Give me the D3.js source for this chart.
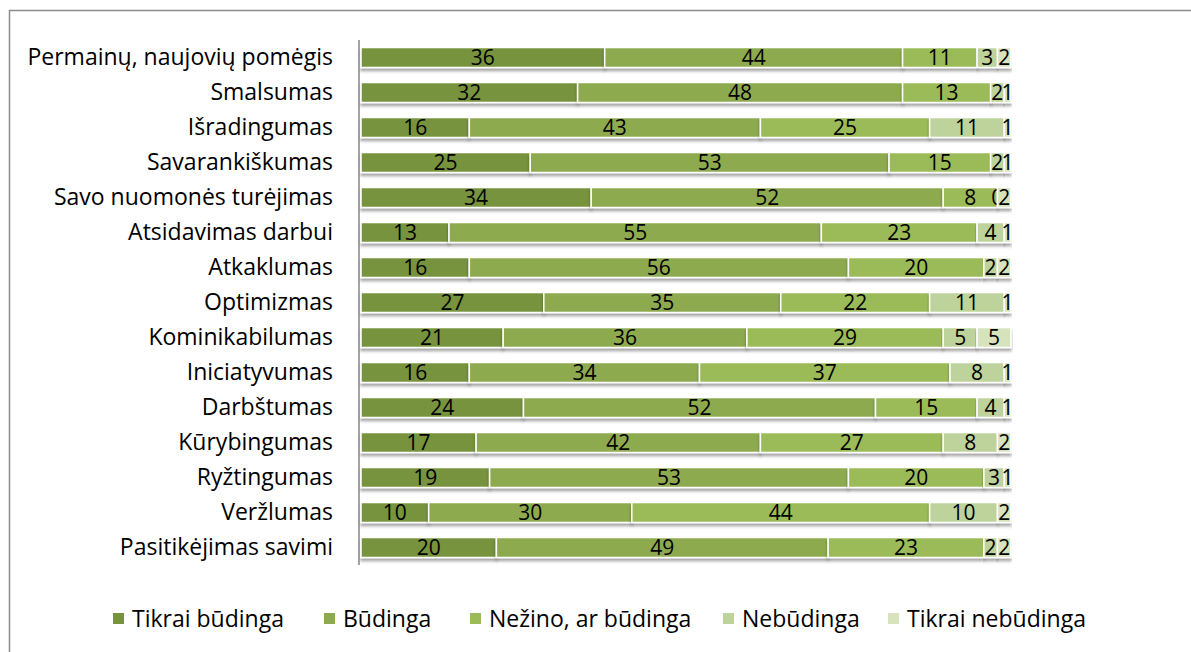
<!DOCTYPE html>
<html>
<head>
<meta charset="utf-8">
<script src="https://cdn.jsdelivr.net/npm/d3@7"></script>
<style>
  body { margin: 0; background: #fff; }
  svg { display: block; font-family: "Open Sans", "Noto Sans", sans-serif; }
</style>
</head>
<body>
<div id="chart"></div>
<script>
//categories, top to bottom
var categories = [
	"Permainų, naujovių pomėgis", "Smalsumas", "Išradingumas", "Savarankiškumas",
	"Savo nuomonės turėjimas", "Atsidavimas darbui", "Atkaklumas", "Optimizmas",
	"Kominikabilumas", "Iniciatyvumas", "Darbštumas", "Kūrybingumas",
	"Ryžtingumas", "Veržlumas", "Pasitikėjimas savimi"
];
var seriesNames = ["Tikrai būdinga", "Būdinga", "Nežino, ar būdinga", "Nebūdinga", "Tikrai nebūdinga"];
var seriesColors = ["#77933c", "#8eaa4f", "#9bbb59", "#bdd39b", "#d6e3bd"];

//one array per series, in category order
var tikraiBudinga = [36, 32, 16, 25, 34, 13, 16, 27, 21, 16, 24, 17, 19, 10, 20];
var budinga       = [44, 48, 43, 53, 52, 55, 56, 35, 36, 34, 52, 42, 53, 30, 49];
var nezino        = [11, 13, 25, 15,  8, 23, 20, 22, 29, 37, 15, 27, 20, 44, 23];
var nebudinga     = [ 3,  2, 11,  2,  0,  4,  2, 11,  5,  8,  4,  8,  3, 10,  2];
var tikraiNe      = [ 2,  1,  1,  1,  2,  1,  2,  1,  5,  1,  1,  2,  1,  2,  2];
var seriesValues = [tikraiBudinga, budinga, nezino, nebudinga, tikraiNe];

var width = 1191, height = 652;

var svg = d3.select("#chart").append("svg")
	.attr("width", width)
	.attr("height", height);

//drop shadow under the bars
var defs = svg.append("defs");
var f = defs.append("filter").attr("id", "shadow")
	.attr("x", "-5%").attr("y", "-30%").attr("width", "110%").attr("height", "180%");
f.append("feDropShadow")
	.attr("dx", 0).attr("dy", 3).attr("stdDeviation", 1.6)
	.attr("flood-color", "#000").attr("flood-opacity", 0.35);

//outer frame
svg.append("rect")
	.attr("x", 9.5).attr("y", 10.5)
	.attr("width", 1200).attr("height", 700)
	.attr("fill", "none")
	.attr("stroke", "#8c8c8c")
	.attr("stroke-width", 1.5);

//scales
var x = d3.scaleLinear().domain([0, 100]).range([361, 1038]);
var y = d3.scaleBand().domain(categories).range([40, 565])
	.paddingInner(0.43).paddingOuter(0.215);

//build stacked rows
var rows = categories.map(function(c, i) {
	var row = { cat: c };
	seriesNames.forEach(function(s, j) { row[s] = seriesValues[j][i]; });
	return row;
});
var stack = d3.stack().keys(seriesNames)(rows);

var layers = svg.append("g").attr("class", "bars")
	.selectAll("g")
	.data(stack)
	.enter().append("g")
	.attr("fill", function(d, i) { return seriesColors[i]; });

layers.selectAll("rect")
	.data(function(d) { return d; })
	.enter().append("rect")
	.attr("x", function(d) { return x(d[0]); })
	.attr("y", function(d) { return y(d.data.cat); })
	.attr("width", function(d) { return x(d[1]) - x(d[0]); })
	.attr("height", y.bandwidth())
	.attr("stroke", "#fff")
	.attr("stroke-width", 1.5)
	.attr("filter", "url(#shadow)");

//value labels
layers.selectAll("text")
	.data(function(d) { return d; })
	.enter().append("text")
	.attr("x", function(d) { return (x(d[0]) + x(d[1])) / 2; })
	.attr("y", function(d) { return y(d.data.cat) + y.bandwidth() / 2; })
	.attr("dy", "0.36em")
	.attr("text-anchor", "middle")
	.attr("fill", "#000")
	.style("font-size", "21px")
	.text(function(d) { return d[1] - d[0]; });

//category axis
var yAxis = svg.append("g")
	.attr("transform", "translate(359,0)")
	.call(d3.axisLeft(y).tickSize(0).tickPadding(26));
yAxis.select(".domain")
	.attr("d", "M0,40V565")
	.attr("stroke", "#868686")
	.attr("stroke-width", 1.5);
yAxis.selectAll("text")
	.style("font-family", "'Open Sans', 'Noto Sans', sans-serif")
	.style("font-size", "23px")
	.attr("fill", "#000");

//legend
var legendX = [113, 324, 470, 723, 888];
var legend = svg.append("g").attr("class", "legend")
	.selectAll("g")
	.data(seriesNames)
	.enter().append("g")
	.attr("transform", function(d, i) { return "translate(" + legendX[i] + ",619)"; });
legend.append("rect")
	.attr("x", 0).attr("y", -6)
	.attr("width", 11).attr("height", 11)
	.attr("fill", function(d, i) { return seriesColors[i]; });
legend.append("text")
	.attr("x", 19).attr("y", 0)
	.attr("dy", "0.36em")
	.style("font-size", "23px")
	.text(function(d) { return d; });
</script>
</body>
</html>
